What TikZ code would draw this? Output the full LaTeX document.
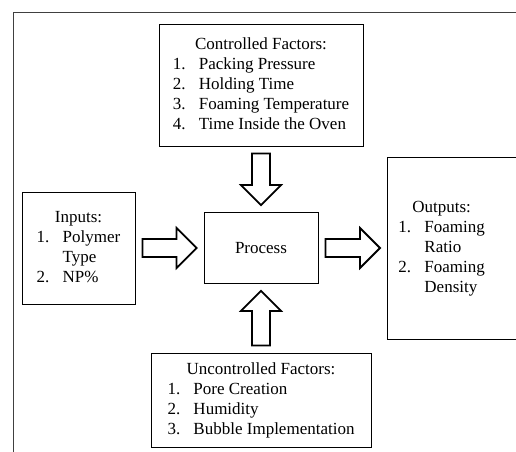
\documentclass[tikz,border=0pt]{standalone}
\usepackage{fontspec}
\setmainfont{Liberation Serif}
\usetikzlibrary{calc}

\tikzset{
  every node/.style={font=\fontsize{17}{20}\selectfont},
  factorbox/.style={draw, line width=0.9pt, inner sep=0pt, align=center},
  blockarrow/.style={draw, line width=1.8pt, fill=white, line join=miter},
}

% numbered item with hanging indent
\newcommand{\itm}[1]{\makebox[26pt][l]{#1}}

% hollow block arrow between two node anchors
\newcommand{\hollowarrow}[2]{%
  \coordinate (ha-a) at ($(#1)!7pt!(#2)$);
  \coordinate (ha-b) at ($(#2)!7pt!(#1)$);
  \coordinate (ha-h) at ($(ha-b)!20pt!(ha-a)$);
  \draw[blockarrow] ($(ha-a)!9pt!90:(ha-b)$) -- ($(ha-h)!9pt!90:(ha-b)$)
    -- ($(ha-h)!20pt!90:(ha-b)$) -- (ha-b) -- ($(ha-h)!20pt!-90:(ha-b)$)
    -- ($(ha-h)!9pt!-90:(ha-b)$) -- ($(ha-a)!9pt!-90:(ha-b)$) -- cycle;}

\begin{document}
\begin{tikzpicture}[x=1pt, y=1pt]
  \useasboundingbox (0,0) rectangle (516,-451);
  \clip (0,0) rectangle (516,-451);

  % outer frame
  \draw[line width=0.9pt, black!75] (13,-460) -- (13,-12) -- (530,-12);

  \node[factorbox, minimum width=204, minimum height=122] (ctrl) at (261,-85)
    {\begin{tabular}{@{}l@{}}
      \multicolumn{1}{@{}c@{}}{Controlled Factors:}\\
      \itm{1.}Packing Pressure\\
      \itm{2.}Holding Time\\
      \itm{3.}Foaming Temperature\\
      \itm{4.}Time Inside the Oven
    \end{tabular}};

  \node[factorbox, minimum width=113, minimum height=112] (inputs) at (78.5,-248)
    {\begin{tabular}{@{}l@{}}
      \multicolumn{1}{@{}c@{}}{Inputs:}\\
      \itm{1.}Polymer\\
      \itm{}Type\\
      \itm{2.}NP\%
    \end{tabular}};

  \node[factorbox, minimum width=114, minimum height=71] (proc) at (261,-248) {Process};

  \node[factorbox, anchor=west, minimum height=182, text width=126, inner xsep=11pt,
    align=left] (outputs) at (387,-248)
    {\begin{tabular}{@{}l@{}}
      \multicolumn{1}{@{}c@{}}{Outputs:}\\
      \itm{1.}Foaming\\
      \itm{}Ratio\\
      \itm{2.}Foaming\\
      \itm{}Density
    \end{tabular}};

  \node[factorbox, minimum width=220, minimum height=94] (unctrl) at (261,-400)
    {\begin{tabular}{@{}l@{}}
      \multicolumn{1}{@{}c@{}}{Uncontrolled Factors:}\\
      \itm{1.}Pore Creation\\
      \itm{2.}Humidity\\
      \itm{3.}Bubble Implementation
    \end{tabular}};

  \hollowarrow{ctrl.south}{proc.north}
  \hollowarrow{inputs.east}{proc.west}
  \hollowarrow{proc.east}{outputs.west}
  \hollowarrow{unctrl.north}{proc.south}
\end{tikzpicture}
\end{document}
